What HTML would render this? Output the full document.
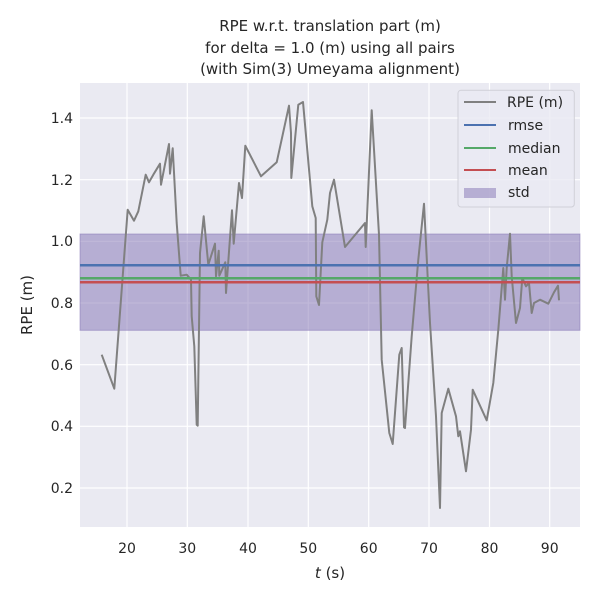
<!DOCTYPE html>
<html><head><style>body{margin:0;background:#fff}svg{display:block}</style></head><body>
<svg width="600" height="600" xmlns="http://www.w3.org/2000/svg" font-family="DejaVu Sans, Liberation Sans, sans-serif">
<rect x="80" y="83" width="500" height="444" fill="#eaeaf2"/>
<g stroke="#fff" stroke-width="1.2">
<line x1="127" y1="83" x2="127" y2="527"/><line x1="187.3" y1="83" x2="187.3" y2="527"/><line x1="248" y1="83" x2="248" y2="527"/><line x1="308.3" y1="83" x2="308.3" y2="527"/><line x1="368.7" y1="83" x2="368.7" y2="527"/><line x1="429" y1="83" x2="429" y2="527"/><line x1="489.5" y1="83" x2="489.5" y2="527"/><line x1="549.7" y1="83" x2="549.7" y2="527"/>
<line x1="80" y1="118" x2="580" y2="118"/><line x1="80" y1="179.7" x2="580" y2="179.7"/><line x1="80" y1="241.3" x2="580" y2="241.3"/><line x1="80" y1="303" x2="580" y2="303"/><line x1="80" y1="364.7" x2="580" y2="364.7"/><line x1="80" y1="426.3" x2="580" y2="426.3"/><line x1="80" y1="488" x2="580" y2="488"/>
</g>
<rect x="80" y="234" width="500" height="96.3" fill="#8172b3" fill-opacity="0.5" stroke="#8172b3" stroke-opacity="0.5"/>
<polyline fill="none" stroke="#808080" stroke-width="2" stroke-linejoin="round" points="101.7,354.7 114.3,388.7 127.7,209.7 134,220.7 138.3,211.3 145.7,174.7 149,182.3 153.3,174.7 160,163.7 161,184.7 169,144 170,173.7 172.7,148.3 176.7,223 180.7,275.7 186.7,274.7 191,279.7 191.7,316.3 194.3,346.3 196.7,424.7 197.7,425.7 200,253 203.7,216.3 208.3,264.7 215,243.7 216,276.3 218.7,250.7 219.3,275.7 225.3,262.3 226,293 232,210.3 233.7,243.7 239,183 242,198 245.3,145.7 261,176.3 276.7,162.3 289,105.7 291,133 291.3,178 298.3,104.7 303,102 312.3,206.3 315.7,218 316.3,296.3 319,305 322.3,242.3 327.3,219.7 330,193 334,179.7 345,247 365,223 365.7,247 371.7,110.3 379,234.7 381.7,359.7 389.3,433 392.7,444 399.3,354.7 401.7,348 404,427.3 405,428 411.7,336.3 418.3,259.7 424,203.7 430,323 436,416.3 440,508 441.7,413 448.3,388.7 456,416.3 458.3,436.3 460,431.3 466,471.3 471,429.7 472.7,389.7 486.7,420.3 493.3,383 498.3,329.7 503.3,268 505,299.7 506.7,268 510,233.7 511.7,276.3 516,323 520,308 522.3,278 526,286.3 529,283 531.7,313 534,303 540,299.7 548.3,303.7 554,292.3 558,285.7 559,300.3"/>
<line x1="80" y1="265.3" x2="580" y2="265.3" stroke="#4c72b0" stroke-width="2.5"/>
<line x1="80" y1="278.3" x2="580" y2="278.3" stroke="#55a868" stroke-width="2.5"/>
<line x1="80" y1="282.3" x2="580" y2="282.3" stroke="#c44e52" stroke-width="2.5"/>
<rect x="458" y="90.3" width="116.3" height="116.7" rx="3" fill="#eaeaf2" fill-opacity="0.8" stroke="#d0d0d8"/>
<g font-size="14" fill="#262626">
<line x1="464" y1="102" x2="496" y2="102" stroke="#808080" stroke-width="2"/><text x="507" y="107">RPE (m)</text>
<line x1="464" y1="125" x2="496" y2="125" stroke="#4c72b0" stroke-width="2"/><text x="508" y="130">rmse</text>
<line x1="464" y1="148" x2="496" y2="148" stroke="#55a868" stroke-width="2"/><text x="508" y="153">median</text>
<line x1="464" y1="170" x2="496" y2="170" stroke="#c44e52" stroke-width="2"/><text x="508" y="175">mean</text>
<rect x="464" y="188" width="32" height="10" fill="#8172b3" fill-opacity="0.5"/><text x="508" y="197">std</text>
</g>
<g font-size="14" fill="#262626" text-anchor="middle">
<text x="127" y="553">20</text><text x="187.3" y="553">30</text><text x="248" y="553">40</text><text x="308.3" y="553">50</text><text x="368.7" y="553">60</text><text x="429" y="553">70</text><text x="489.5" y="553">80</text><text x="549.7" y="553">90</text>
<text x="330" y="578" font-size="15"><tspan font-style="italic">t</tspan> (s)</text>
<text x="330" y="31" font-size="15">RPE w.r.t. translation part (m)</text>
<text x="330" y="53" font-size="15">for delta = 1.0 (m) using all pairs</text>
<text x="330" y="74" font-size="15">(with Sim(3) Umeyama alignment)</text>
</g>
<g font-size="14" fill="#262626" text-anchor="end">
<text x="73" y="123">1.4</text><text x="73" y="185">1.2</text><text x="73" y="246">1.0</text><text x="73" y="308">0.8</text><text x="73" y="370">0.6</text><text x="73" y="431">0.4</text><text x="73" y="493">0.2</text>
</g>
<text transform="translate(32,305) rotate(-90)" font-size="15" fill="#262626" text-anchor="middle">RPE (m)</text>
</svg>
</body></html>
